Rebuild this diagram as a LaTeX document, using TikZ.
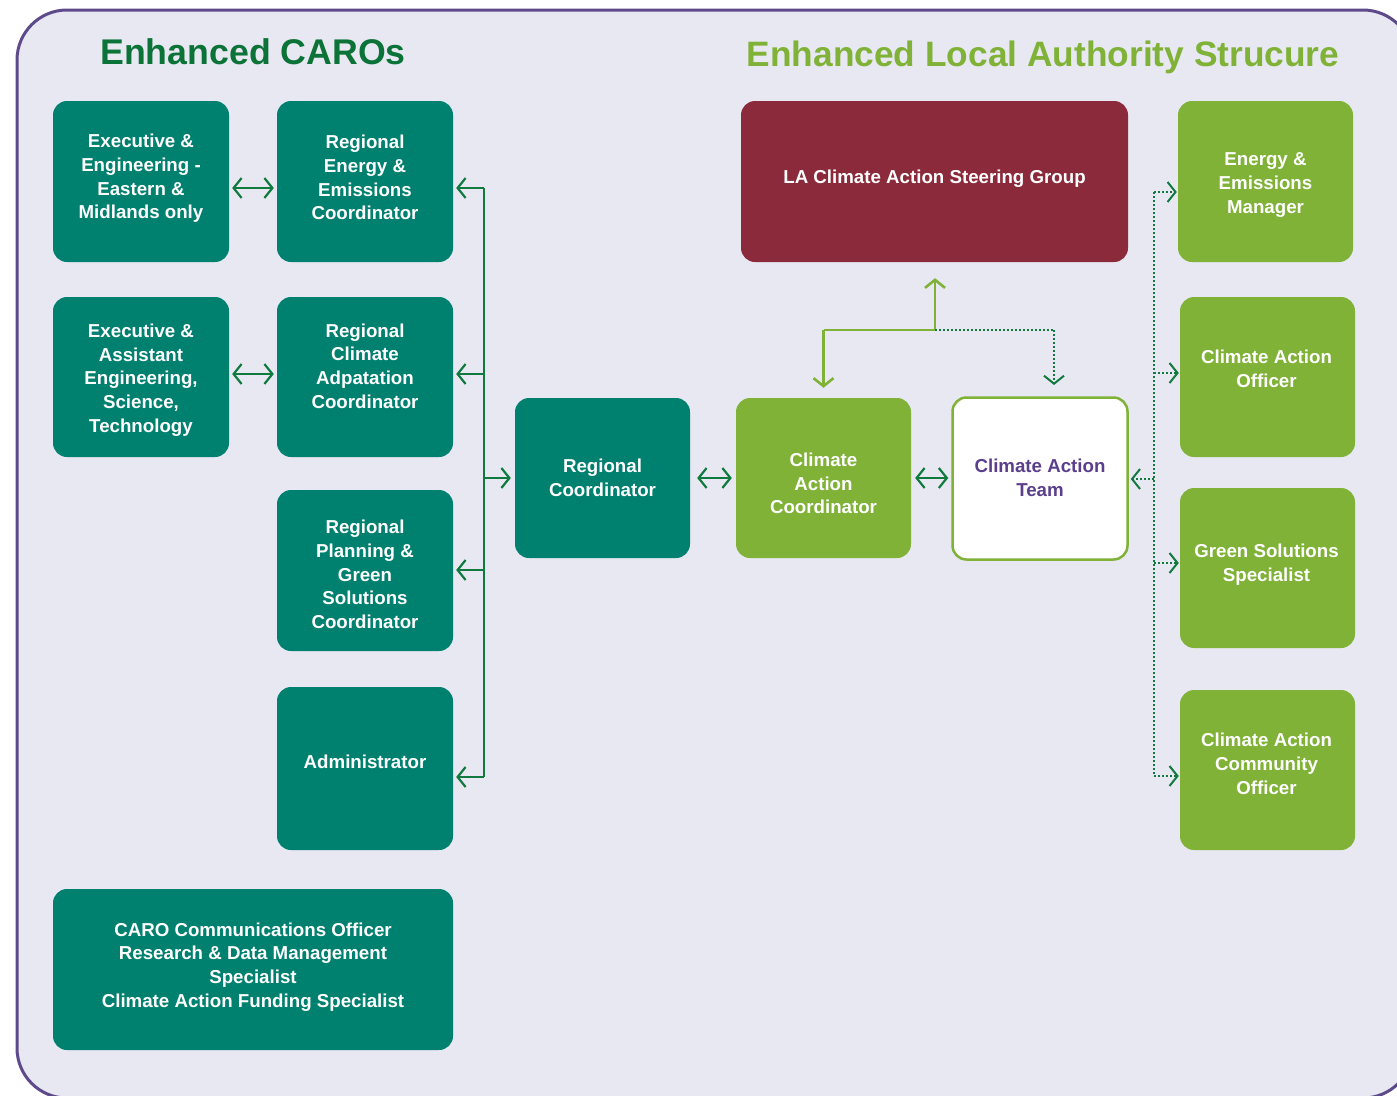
\documentclass[tikz,border=0pt]{standalone}
\usepackage{fontspec}
\setmainfont{Liberation Sans}
\usetikzlibrary{arrows.meta,calc}
\definecolor{bgc}{HTML}{E8E8F3}
\definecolor{frame}{HTML}{5E4A8B}
\definecolor{teal}{HTML}{00806F}
\definecolor{lgr}{HTML}{7FB236}
\definecolor{dkg}{HTML}{117A3E}
\definecolor{ttl}{HTML}{0B7337}
\definecolor{maroon}{HTML}{8B2A3B}
\definecolor{teamtxt}{HTML}{5B3F8C}
\tikzset{
  box/.style={rounded corners=14pt, inner sep=0pt},
  tbox/.style={box, fill=teal},
  gbox/.style={box, fill=lgr},
  lbl/.style={inner sep=0pt, align=center, font=\fontsize{18.7}{23.7}\selectfont\bfseries, text=white},
  barb/.tip={Straight Barb[length=8pt,width=20pt]},
  arr/.style={draw=dkg, line width=2.2pt, -barb},
  darr/.style={draw=dkg, line width=2.2pt, barb-barb},
  bus/.style={draw=dkg, line width=2.2pt},
  garr/.style={draw=lgr, line width=2.6pt, -barb},
  gline/.style={draw=lgr, line width=2.6pt},
  darrd/.style={draw=dkg, line width=2pt, dotted, -{Straight Barb[length=8pt,width=20pt,line width=2pt]}},
  dline/.style={draw=dkg, line width=2pt, dotted},
  ttlnode/.style={font=\fontsize{35.7}{40}\selectfont\bfseries, inner sep=0pt}
}
\begin{document}
\begin{tikzpicture}[x=1pt,y=-1pt]
\useasboundingbox (0,0) rectangle (1397,1095);
\clip (0,0) rectangle (1397,1095);
\draw[fill=bgc, draw=frame, line width=3pt, rounded corners=50pt] (17,10) rectangle (1413,1098);

% titles
\node[ttlnode, text=ttl] (t1) at (253,52) {Enhanced CAROs};
\node[ttlnode, text=lgr, font=\fontsize{35.3}{40}\selectfont\bfseries] (t2) at (1043,57) {Enhanced Local Authority Strucure};

% left column 1
\node[tbox, minimum width=176pt, minimum height=161pt] (ee) at (141,181.5) {};
\node[lbl] (ee-t) at ($(ee)+(0,-3)$) {Executive \&\\Engineering -\\Eastern \&\\Midlands only};
\node[tbox, minimum width=176pt, minimum height=160pt] (ea) at (141,377) {};
\node[lbl] (ea-t) at ($(ea)+(0,3)$) {Executive \&\\Assistant\\Engineering,\\Science,\\Technology};
% column 2
\node[tbox, minimum width=176pt, minimum height=161pt] (ree) at (365,181.5) {};
\node[lbl] (ree-t) at ($(ree)+(0,-4)$) {Regional\\Energy \&\\Emissions\\Coordinator};
\node[tbox, minimum width=176pt, minimum height=160pt] (rca) at (365,377) {};
\node[lbl] (rca-t) at ($(rca)+(0,-11)$) {Regional\\Climate\\Adpatation\\Coordinator};
\node[tbox, minimum width=176pt, minimum height=161pt] (rpg) at (365,570.5) {};
\node[lbl] (rpg-t) at ($(rpg)+(0,4)$) {Regional\\Planning \&\\Green\\Solutions\\Coordinator};
\node[tbox, minimum width=176pt, minimum height=163pt] (adm) at (365,768.5) {};
\node[lbl] (adm-t) at ($(adm)+(0,-7)$) {Administrator};
% bottom
\node[tbox, minimum width=400pt, minimum height=161pt] (caro) at (253,969.5) {};
\node[lbl] (caro-t) at ($(caro)+(0,-2.5)$) {CARO Communications Officer\\Research \& Data Management\\Specialist\\Climate Action Funding Specialist};
% regional coordinator
\node[tbox, minimum width=175pt, minimum height=160pt] (rc) at (602.5,478) {};
\node[lbl] (rc-t) at (rc) {Regional\\Coordinator};
% climate action coordinator
\node[gbox, minimum width=175pt, minimum height=160pt] (cac) at (823.5,478) {};
\node[lbl] (cac-t) at ($(cac)+(0,5.5)$) {Climate\\Action\\Coordinator};
% team
\node[box, fill=white, draw=lgr, line width=2.5pt, minimum width=175pt, minimum height=162pt] (cat) at (1040,478.5) {};
\node[lbl, text=teamtxt] (cat-t) at ($(cat)+(0,-0.5)$) {Climate Action\\Team};
% steering group
\node[box, fill=maroon, minimum width=387pt, minimum height=161pt] (lasg) at (934.5,181.5) {};
\node[lbl] (lasg-t) at ($(lasg)+(0,-3)$) {LA Climate Action Steering Group};
% right column
\node[gbox, minimum width=175pt, minimum height=161pt] (eem) at (1265.5,181.5) {};
\node[lbl] (eem-t) at ($(eem)+(0,3.5)$) {Energy \&\\Emissions\\Manager};
\node[gbox, minimum width=175pt, minimum height=160pt] (cao) at (1267.5,377) {};
\node[lbl] (cao-t) at ($(cao)+(-1,-8)$) {Climate Action\\Officer};
\node[gbox, minimum width=175pt, minimum height=160pt] (gss) at (1267.5,568) {};
\node[lbl] (gss-t) at ($(gss)+(-1,-3.5)$) {Green Solutions\\Specialist};
\node[gbox, minimum width=175pt, minimum height=160pt] (caco) at (1267.5,770) {};
\node[lbl] (caco-t) at ($(caco)+(-1,-6)$) {Climate Action\\Community\\Officer};

% left double arrows
\draw[darr, shorten <=3pt, shorten >=3pt] (ee.east |- 0,188) -- (ree.west |- 0,188);
\draw[darr, shorten <=3pt, shorten >=3pt] (ea.east |- 0,374) -- (rca.west |- 0,374);

% left bus
\coordinate (lb) at (484,478);
\draw[bus] (lb |- 0,188) -- (lb |- 0,777);
\draw[arr, shorten >=3pt] (lb |- 0,188) -- (ree.east |- 0,188);
\draw[arr, shorten >=3pt] (lb |- 0,374) -- (rca.east |- 0,374);
\draw[arr, shorten >=3pt] (lb |- 0,570) -- (rpg.east |- 0,570);
\draw[arr, shorten >=3pt] (lb |- 0,777) -- (adm.east |- 0,777);
\draw[arr, shorten >=4pt] (lb) -- (rc.west |- lb);

% middle double arrows
\draw[darr, shorten <=7pt, shorten >=4pt] (rc.east |- 0,478) -- (cac.west |- 0,478);
\draw[darr, shorten <=4pt, shorten >=3pt] (cac.east |- 0,478) -- (cat.west |- 0,478);

% top connectors
\coordinate (tj) at (935,330);
\draw[garr, shorten >=16pt] (tj) -- (tj |- lasg.south);
\draw[gline] (tj) -- (cac.north |- tj);
\draw[garr, shorten >=10pt] (cac.north |- tj) -- (cac.north);
\draw[dline] (tj) -- (1054,330);
\draw[darrd, shorten >=12pt] (1054,330) -- (1054,397);

% right dotted bus
\coordinate (rb) at (1154,479);
\draw[dline] (rb |- 0,192) -- (rb |- 0,776);
\draw[darrd, shorten >=1pt] (rb |- 0,192) -- (eem.west |- 0,192);
\draw[darrd, shorten >=1pt] (rb |- 0,373) -- (cao.west |- 0,373);
\draw[darrd, shorten >=1pt] (rb |- 0,563) -- (gss.west |- 0,563);
\draw[darrd, shorten >=1pt] (rb |- 0,776) -- (caco.west |- 0,776);
\draw[darrd, shorten >=2pt] (rb) -- (cat.east |- rb);
\end{tikzpicture}
\end{document}
